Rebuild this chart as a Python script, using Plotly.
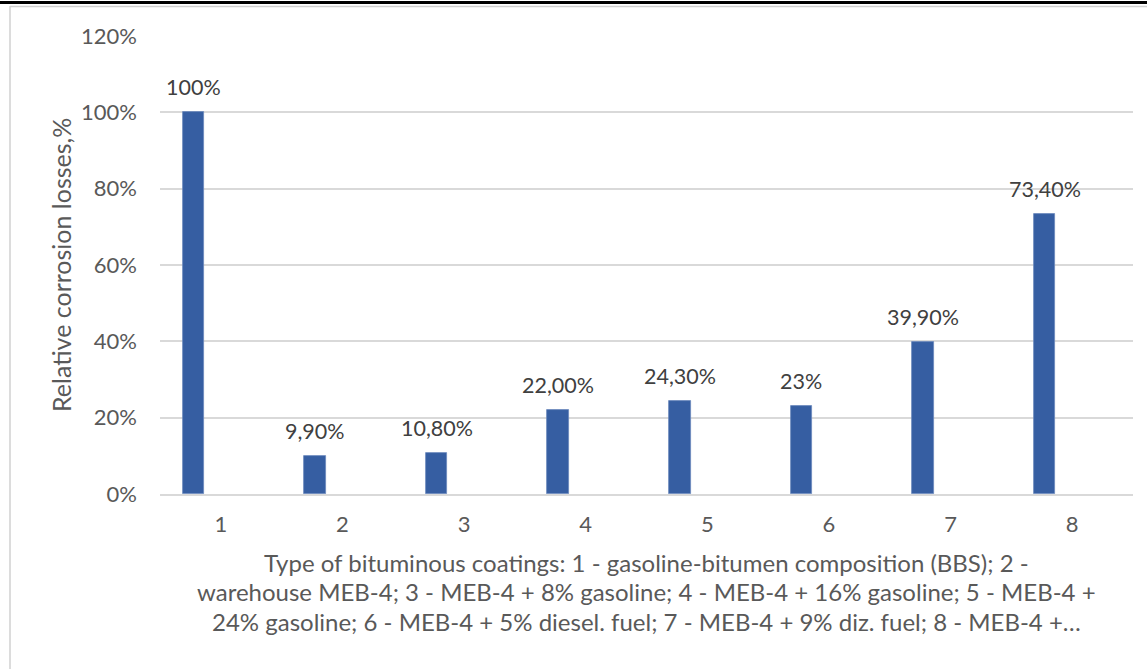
import plotly.graph_objects as go

# Coating types (category axis) and relative corrosion losses, %
categories = ["1", "2", "3", "4", "5", "6", "7", "8"]
losses = [100, 9.9, 10.8, 22.0, 24.3, 23, 39.9, 73.4]
label_decimals = [0, 2, 2, 2, 2, 0, 2, 2]
y_ticks = [0, 20, 40, 60, 80, 100, 120]

x_title_lines = [
    "Type of bituminous coatings: 1 - gasoline-bitumen composition (BBS); 2 -",
    "warehouse MEB-4; 3 - MEB-4 + 8% gasoline; 4 - MEB-4 + 16% gasoline; 5 - MEB-4 +",
    "24% gasoline; 6 - MEB-4 + 5% diesel. fuel; 7 - MEB-4 + 9% diz. fuel; 8 - MEB-4 +…",
]
y_title = "Relative corrosion losses,%"

FONT = "Lato"
BAR_COLOR = "#365ea2"
GRID = "#d9d9d9"
TICK_COLOR = "#595959"
LABEL_COLOR = "#404040"

W, H = 1147, 669
L, R, T, B = 160, 14, 36, 175
plot_w, plot_h = W - L - R, H - T - B

bar_width = 0.177
bar_offset = -0.315
bar_center = bar_offset + bar_width / 2


def px_x(px):
    return (px - L) / plot_w


def px_y(px):
    return (H - B - px) / plot_h


def fmt(v, d):
    return f"{v:.{d}f}".replace(".", ",") + "%"


fig = go.Figure(
    go.Bar(
        x=categories,
        y=losses,
        width=bar_width,
        offset=bar_offset,
        marker=dict(color=BAR_COLOR, line=dict(color="#6a88bd", width=0.8)),
        hoverinfo="skip",
    )
)

annotations = []
for i, (v, d) in enumerate(zip(losses, label_decimals)):
    annotations.append(
        dict(
            x=i + bar_center, y=v, xref="x", yref="y",
            text=fmt(v, d), showarrow=False,
            xanchor="center", yanchor="bottom", yshift=10,
            font=dict(family=FONT, size=21.5, color=LABEL_COLOR),
        )
    )

for line, ypx in zip(x_title_lines, [562, 591, 621]):
    annotations.append(
        dict(
            x=0.5, y=px_y(ypx), xref="paper", yref="paper",
            text=line, showarrow=False,
            xanchor="center", yanchor="middle",
            font=dict(family=FONT, size=24, color=TICK_COLOR),
        )
    )

annotations.append(
    dict(
        x=px_x(61), y=0.5, xref="paper", yref="paper",
        text=y_title, showarrow=False, textangle=-90,
        xanchor="center", yanchor="middle",
        font=dict(family=FONT, size=25, color=TICK_COLOR),
    )
)

shapes = [
    # outer chart frame (left and top edges)
    dict(type="line", xref="paper", yref="paper",
         x0=px_x(10), x1=px_x(10), y0=px_y(6), y1=px_y(H),
         line=dict(color="#d0d0d0", width=1.5)),
    dict(type="line", xref="paper", yref="paper",
         x0=px_x(10), x1=px_x(W), y0=px_y(6.5), y1=px_y(6.5),
         line=dict(color="#d0d0d0", width=1.5)),
    # heavy rule across the top
    dict(type="line", xref="paper", yref="paper",
         x0=px_x(0), x1=px_x(W), y0=px_y(2.5), y1=px_y(2.5),
         line=dict(color="#000000", width=3)),
]

fig.update_layout(
    width=W, height=H,
    margin=dict(l=L, r=R, t=T, b=B),
    paper_bgcolor="white", plot_bgcolor="white",
    showlegend=False,
    bargap=0,
    font=dict(family=FONT, size=22, color=TICK_COLOR),
    annotations=annotations,
    shapes=shapes,
)

fig.update_xaxes(
    type="category",
    categoryorder="array", categoryarray=categories,
    range=[-0.5, len(categories) - 0.5],
    showgrid=False, showline=True, linecolor=GRID, linewidth=1.5,
    ticks="", ticklabelstandoff=10,
    tickfont=dict(family=FONT, size=22, color=TICK_COLOR),
)

fig.update_yaxes(
    range=[0, 120],
    tickvals=y_ticks, ticktext=[f"{t}%" for t in y_ticks],
    showgrid=True, gridcolor=GRID, gridwidth=1.5,
    zeroline=False, showline=False,
    ticks="", ticklabelstandoff=22,
    tickfont=dict(family=FONT, size=22, color=TICK_COLOR),
)

fig.write_html("out.html")
